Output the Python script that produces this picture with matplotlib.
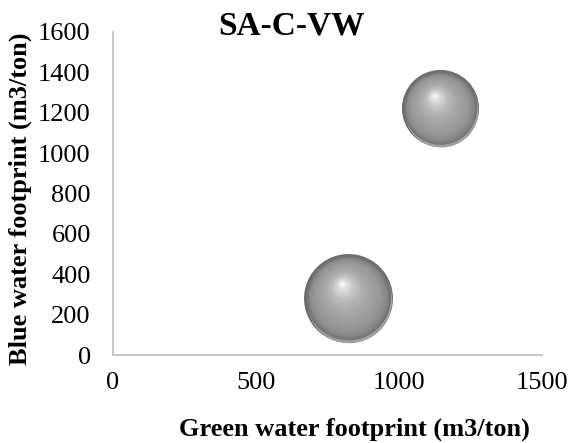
import numpy as np
import matplotlib
matplotlib.use("Agg")
import matplotlib.pyplot as plt
from matplotlib.transforms import offset_copy

# Data
green_wf = [822, 1143]      # x: Green water footprint (m3/ton)
blue_wf = [282, 1223]       # y: Blue water footprint (m3/ton)
bubble_size = [250, 188]    # relative bubble size (area)
x_ticks = [0, 500, 1000, 1500]
y_ticks = [0, 200, 400, 600, 800, 1000, 1200, 1400, 1600]

plt.rcParams['font.family'] = ['Liberation Serif', 'DejaVu Serif']

fig = plt.figure(figsize=(5.72, 4.43), dpi=100)
ax = fig.add_axes([113/572, 1-355/443, (542-113)/572, (355-32)/443])
ax.set_xlim(0, 1500)
ax.set_ylim(0, 1600)
ax.set_xticks(x_ticks)
ax.set_yticks(y_ticks)
ax.tick_params(length=0, labelsize=19)
ax.tick_params(axis='x', pad=12)
ax.tick_params(axis='y', pad=16)
for s in ['top', 'right']:
    ax.spines[s].set_visible(False)
for s in ['left', 'bottom']:
    ax.spines[s].set_color('#c8c8c8')
    ax.spines[s].set_linewidth(1.5)

# bubble radius in points: map max size to ~32 pt radius
scale = 32.0 / np.sqrt(max(bubble_size))
N = 50
for x, y, s in zip(green_wf, blue_wf, bubble_size):
    R = scale * np.sqrt(s)  # radius in points
    # soft rim
    ax.scatter([x], [y], s=(2*R)**2, color='#6a6a6a', zorder=3, linewidths=0)
    # lower reflection
    tr = offset_copy(ax.transData, fig=fig, x=0.02*R, y=-0.04*R, units='points')
    ax.scatter([x], [y], s=(2*R*0.96)**2, color='#a0a0a0', zorder=3,
               linewidths=0, transform=tr)
    tr = offset_copy(ax.transData, fig=fig, x=0, y=0.03*R, units='points')
    ax.scatter([x], [y], s=(2*R*0.955)**2, color='#707070', zorder=3,
               linewidths=0, transform=tr)
    for k in range(N):
        t = k / N
        rk = R * 0.94 * (1 - t)
        dx, dy = -0.14*R*t, 0.34*R*t
        g = 0.45 + 0.17*(1 - np.exp(-t/0.12)) + 0.38*t**3
        tr = offset_copy(ax.transData, fig=fig, x=dx, y=dy, units='points')
        ax.scatter([x], [y], s=(2*rk)**2, color=(g, g, g), zorder=4,
                   linewidths=0, transform=tr)

fig.text(292/572, 1-26/443, 'SA-C-VW', ha='center', va='center',
         fontsize=24, fontweight='bold')
fig.text(354/572, 1-429/443, 'Green water footprint (m3/ton)', ha='center',
         va='center', fontsize=19, fontweight='bold')
fig.text(20/572, 1-199/443, 'Blue water footprint (m3/ton)', ha='center',
         va='center', fontsize=19, fontweight='bold', rotation=90)

fig.savefig('out.png', dpi=100)
